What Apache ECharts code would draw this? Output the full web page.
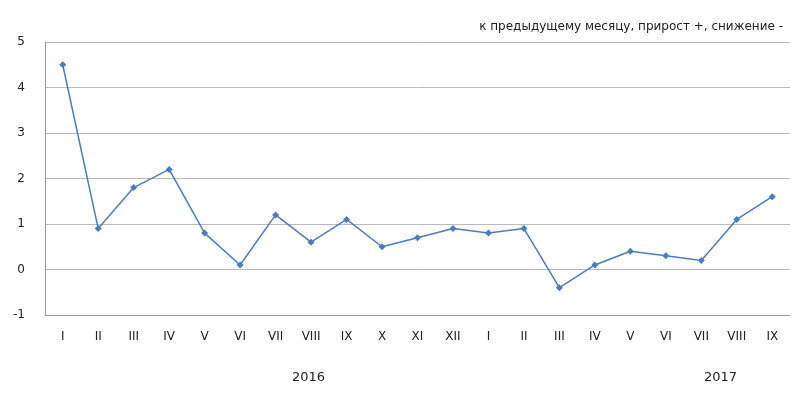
<!DOCTYPE html>
<html>
<head>
<meta charset="utf-8">
<script src="https://cdn.jsdelivr.net/npm/echarts@6/dist/echarts.min.js"></script>
<style>html,body{margin:0;background:#fff}#chart{width:800px;height:408px}</style>
</head>
<body>
<div id="chart"></div>
<script>
// месяцы 2016-2017
var months = ['I','II','III','IV','V','VI','VII','VIII','IX','X','XI','XII','I','II','III','IV','V','VI','VII','VIII','IX'];
var values = [4.5,0.9,1.8,2.2,0.8,0.1,1.2,0.6,1.1,0.5,0.7,0.9,0.8,0.9,-0.4,0.1,0.4,0.3,0.2,1.1,1.6];
var yearLabels = ['2016','2017'];

var chart = echarts.init(document.getElementById('chart'));
chart.setOption({
    animation: false,
    title: {
        text: 'к предыдущему месяцу, прирост +, снижение -',
        right: 12,
        top: 16,
        textStyle: {fontFamily: 'DejaVu Sans', fontSize: 12, fontWeight: 'normal', color: '#222'}
    },
    graphic: [
        {type: 'text', left: 292, top: 371, style: {text: yearLabels[0], font: '13px DejaVu Sans', fill: '#222'}},
        {type: 'text', left: 704, top: 371, style: {text: yearLabels[1], font: '13px DejaVu Sans', fill: '#222'}}
    ],
    grid: {left: 45, right: 10, top: 42, bottom: 93},
    xAxis: {
        type: 'category',
        data: months,
        boundaryGap: true,
        axisLine: {onZero: false, lineStyle: {color: '#999'}},
        axisTick: {show: false},
        axisLabel: {color: '#222', fontFamily: 'DejaVu Sans', fontSize: 12, margin: 16}
    },
    yAxis: {
        type: 'value',
        min: -1, max: 5, interval: 1,
        axisLine: {show: true, lineStyle: {color: '#999'}},
        axisTick: {show: false},
        axisLabel: {color: '#222', fontFamily: 'DejaVu Sans', fontSize: 12, margin: 20},
        splitLine: {lineStyle: {color: '#bbb'}}
    },
    series: [{
        type: 'line',
        data: values,
        symbol: 'diamond',
        symbolSize: 7,
        lineStyle: {color: '#4a7ebb', width: 1.5},
        itemStyle: {color: '#4a7ebb'}
    }]
});
</script>
</body>
</html>
